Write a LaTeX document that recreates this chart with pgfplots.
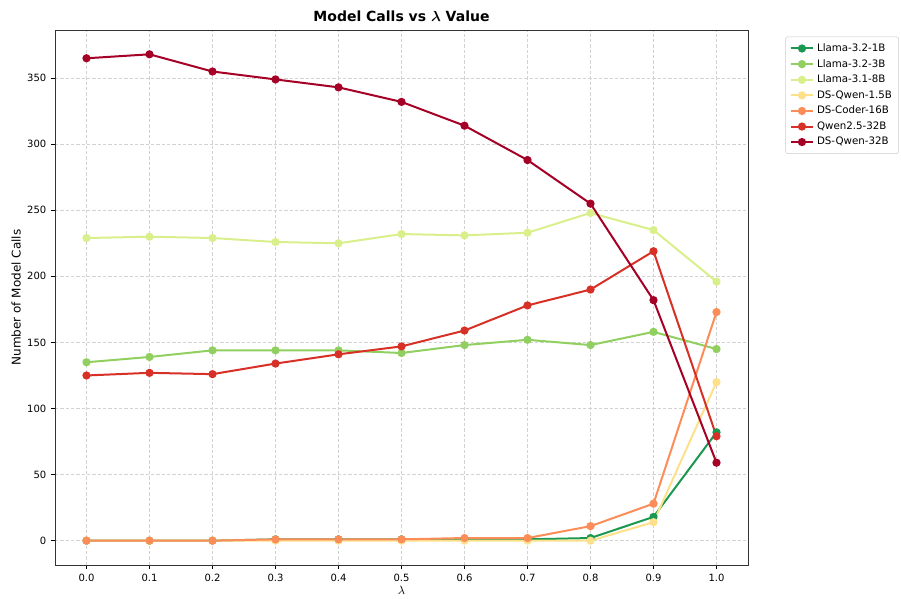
\documentclass[border=0pt]{standalone}
\usepackage{pgfplots}
\pgfplotsset{compat=1.18}
\usepackage{amsmath}
\usepackage{bm}
\usepackage{fontspec}
\setmainfont{DejaVu Sans}
\definecolor{c1}{HTML}{1A9850}
\definecolor{c2}{HTML}{91CF60}
\definecolor{c3}{HTML}{D9EF8B}
\definecolor{c4}{HTML}{FEE08B}
\definecolor{c5}{HTML}{FC8D59}
\definecolor{c6}{HTML}{D73027}
\definecolor{c7}{HTML}{A50026}
\begin{document}
\begin{tikzpicture}
\useasboundingbox (-41.25pt,-25.5pt) rectangle (634.5pt,423.75pt);
\begin{axis}[
  at={(0,0)}, anchor=south west,
  scale only axis, width=519.75pt, height=401.25pt,
  xmin=-0.05, xmax=1.05, ymin=-18.4, ymax=386.4,
  xtick={0,0.1,0.2,0.3,0.4,0.5,0.6,0.7,0.8,0.9,1.0},
  ytick={0,50,100,150,200,250,300,350},
  xticklabel style={/pgf/number format/.cd,fixed,fixed zerofill,precision=1},
  /pgf/number format/assume math mode=true,
  ticklabel style={font=\fontsize{7.5pt}{9pt}\selectfont},
  tick align=outside, tick style={black, line width=0.6pt}, major tick length=3pt,
  xtick pos=bottom, ytick pos=left,
  axis line style={black!80, line width=0.6pt},
  grid=major, major grid style={dash pattern=on 2.5pt off 1.5pt, gray!35, line width=0.5pt},
  title={\bfseries Model Calls vs $\bm{\lambda}$ Value},
  title style={font=\fontsize{10.5pt}{12pt}\selectfont, yshift=-3pt},
  xlabel={$\lambda$}, ylabel={Number of Model Calls},
  label style={font=\fontsize{9pt}{10pt}\selectfont},
  xlabel style={yshift=3pt},
  ylabel style={yshift=-2pt},
  every axis plot/.append style={line width=1.5pt, mark=*, mark size=2.3pt},
  legend style={at={(rel axis cs:1,1)}, anchor=north west, xshift=28pt, yshift=-5pt,
    font=\fontsize{7.7pt}{9pt}\selectfont, draw=gray!40, rounded corners=1.5pt,
    row sep=0.4pt, inner sep=3pt},
  legend cell align=left,
]
\addplot[c1, mark options={fill=c1}] coordinates {(0,0)(0.1,0)(0.2,0)(0.3,1)(0.4,1)(0.5,1)(0.6,1)(0.7,1)(0.8,2)(0.9,18)(1.0,82)};
\addlegendentry{Llama-3.2-1B}
\addplot[c2, mark options={fill=c2}] coordinates {(0,135)(0.1,139)(0.2,144)(0.3,144)(0.4,144)(0.5,142)(0.6,148)(0.7,152)(0.8,148)(0.9,158)(1.0,145)};
\addlegendentry{Llama-3.2-3B}
\addplot[c3, mark options={fill=c3}] coordinates {(0,229)(0.1,230)(0.2,229)(0.3,226)(0.4,225)(0.5,232)(0.6,231)(0.7,233)(0.8,248)(0.9,235)(1.0,196)};
\addlegendentry{Llama-3.1-8B}
\addplot[c4, mark options={fill=c4}] coordinates {(0,0)(0.1,0)(0.2,0)(0.3,0)(0.4,0)(0.5,0)(0.6,0)(0.7,0)(0.8,0)(0.9,14)(1.0,120)};
\addlegendentry{DS-Qwen-1.5B}
\addplot[c5, mark options={fill=c5}] coordinates {(0,0)(0.1,0)(0.2,0)(0.3,1)(0.4,1)(0.5,1)(0.6,2)(0.7,2)(0.8,11)(0.9,28)(1.0,173)};
\addlegendentry{DS-Coder-16B}
\addplot[c6, mark options={fill=c6}] coordinates {(0,125)(0.1,127)(0.2,126)(0.3,134)(0.4,141)(0.5,147)(0.6,159)(0.7,178)(0.8,190)(0.9,219)(1.0,79)};
\addlegendentry{Qwen2.5-32B}
\addplot[c7, mark options={fill=c7}] coordinates {(0,365)(0.1,368)(0.2,355)(0.3,349)(0.4,343)(0.5,332)(0.6,314)(0.7,288)(0.8,255)(0.9,182)(1.0,59)};
\addlegendentry{DS-Qwen-32B}
\end{axis}
\end{tikzpicture}
\end{document}
